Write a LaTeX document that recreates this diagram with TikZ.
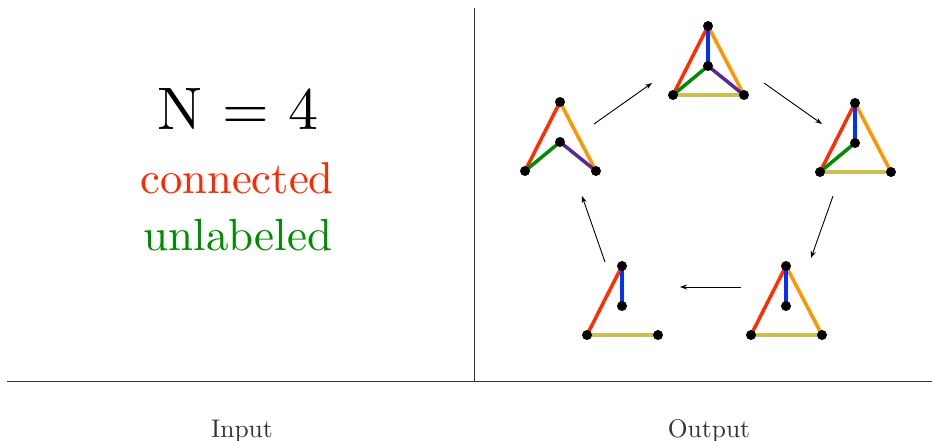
\documentclass[tikz,border=0pt]{standalone}
\usepackage{fontspec}
\setmainfont{lmroman10-regular.otf}
\usetikzlibrary{arrows.meta}
\definecolor{ered}{RGB}{255,45,0}
\definecolor{eorange}{RGB}{255,150,0}
\definecolor{eblue}{RGB}{0,50,255}
\definecolor{egreen}{RGB}{0,140,0}
\definecolor{epurple}{RGB}{90,40,150}
\definecolor{eolive}{RGB}{200,192,80}
\definecolor{tred}{RGB}{255,40,0}
\definecolor{tgreen}{RGB}{0,140,0}
\tikzset{
  edge/.style={line width=3.5pt},
  dot/.style={circle,fill=black,inner sep=0pt,minimum size=10pt},
  flow/.style={-{Stealth[length=7pt,width=5pt]},line width=0.9pt},
  rule/.style={line width=0.9pt,black!80},
  caption/.style={anchor=base,text=black!80,font=\fontsize{25.5}{30}\selectfont}
}
\newcommand{\placegraph}[5]{%
  \coordinate (#1t) at (#2,#3);
  \coordinate (#1m) at (#2,#3+40);
  \coordinate (#1l) at (#2-35,#3+69);
  \coordinate (#1r) at (#2+36,#3+69);
  #5
  \foreach \v in {t,m,l,r}{\node[dot] (#1\v dot) at (#1\v) {};}
}
\begin{document}
\begin{tikzpicture}[x=1pt,y=-1pt]
\useasboundingbox (0,0) rectangle (932,440);
% dividing lines
\coordinate (vtop) at (474,8);
\coordinate (vbot) at (474,381);
\coordinate (hl) at (7,381);
\coordinate (hr) at (932,381);
\draw[rule] (vtop) -- (vbot);
\draw[rule] (hl) -- (hr);
% input text
\node[anchor=base,font=\fontsize{60}{70}\selectfont] (nlabel) at (238,129) {N = 4};
\node[anchor=base,text=tred,font=\fontsize{44.6}{54}\selectfont] (conn) at (237,193) {connected};
\node[anchor=base,text=tgreen,font=\fontsize{45}{54}\selectfont] (unlab) at (238,250) {unlabeled};
\node[caption] (inlab) at (242,437) {Input};
\node[caption] (outlab) at (709,437) {Output};
% graphs
\placegraph{a}{560}{102}{}{%
  \draw[edge,ered] (al) -- (at);
  \draw[edge,eorange] (at) -- (ar);
  \draw[edge,egreen] (al) -- (am);
  \draw[edge,epurple] (am) -- (ar);}
\placegraph{b}{708}{26}{}{%
  \draw[edge,eolive] (bl) -- (br);
  \draw[edge,ered] (bl) -- (bt);
  \draw[edge,eorange] (bt) -- (br);
  \draw[edge,eblue] (bt) -- (bm);
  \draw[edge,egreen] (bl) -- (bm);
  \draw[edge,epurple] (bm) -- (br);}
\placegraph{c}{855}{103}{}{%
  \draw[edge,eolive] (cl) -- (cr);
  \draw[edge,ered] (cl) -- (ct);
  \draw[edge,eorange] (ct) -- (cr);
  \draw[edge,eblue] (ct) -- (cm);
  \draw[edge,egreen] (cl) -- (cm);}
\placegraph{d}{786}{266}{}{%
  \draw[edge,eolive] (dl) -- (dr);
  \draw[edge,ered] (dl) -- (dt);
  \draw[edge,eorange] (dt) -- (dr);
  \draw[edge,eblue] (dt) -- (dm);}
\placegraph{e}{622}{266}{}{%
  \draw[edge,eolive] (el) -- (er);
  \draw[edge,ered] (el) -- (et);
  \draw[edge,eblue] (et) -- (em);}
% arrows
\coordinate (f1s) at (594,124); \coordinate (f1e) at (652,83);
\coordinate (f2s) at (764,83);  \coordinate (f2e) at (822,124);
\coordinate (f3s) at (833,196); \coordinate (f3e) at (811,258);
\coordinate (f4s) at (741,287); \coordinate (f4e) at (680,287);
\coordinate (f5s) at (605,262); \coordinate (f5e) at (582,196);
\draw[flow] (f1s) -- (f1e);
\draw[flow] (f2s) -- (f2e);
\draw[flow] (f3s) -- (f3e);
\draw[flow] (f4s) -- (f4e);
\draw[flow] (f5s) -- (f5e);
\end{tikzpicture}
\end{document}
